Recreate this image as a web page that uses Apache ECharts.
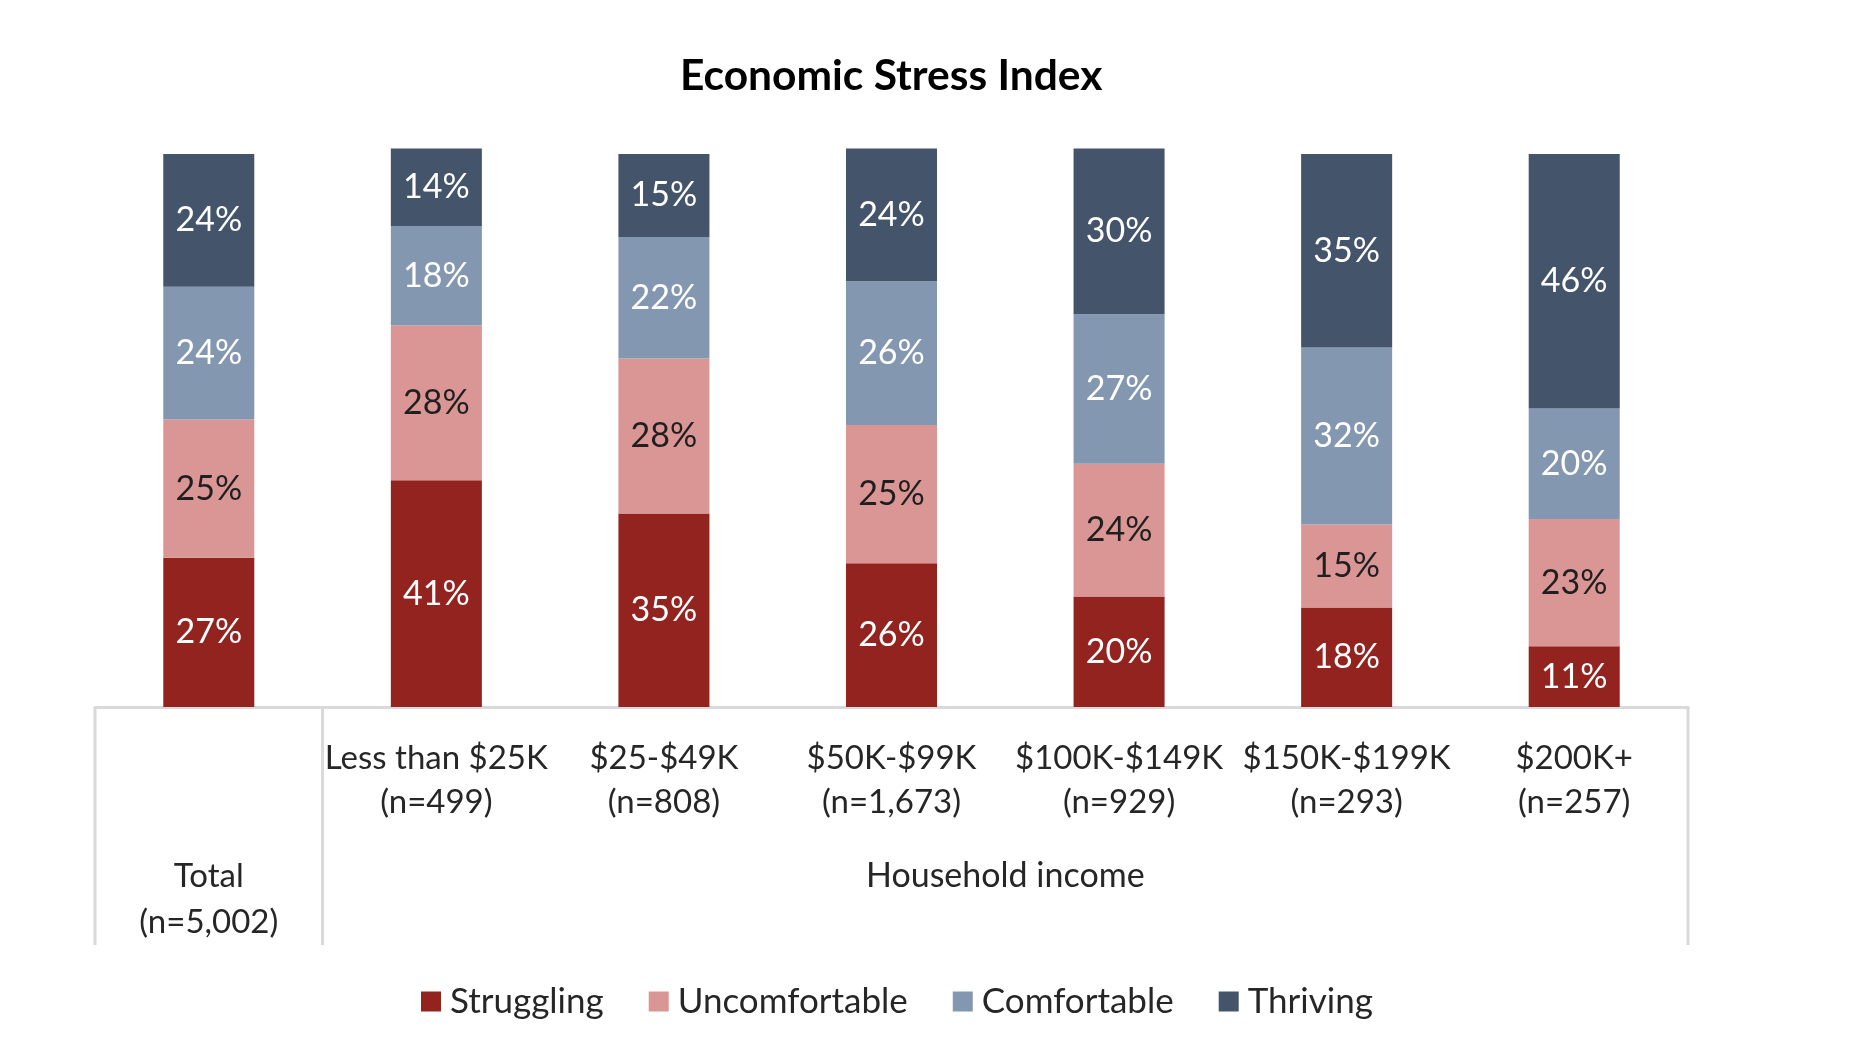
<!DOCTYPE html>
<html>
<head>
<meta charset="utf-8">
<script src="https://cdn.jsdelivr.net/npm/echarts@6/dist/echarts.min.js"></script>
<style>
html,body{margin:0;padding:0;background:#fff;}
#chart{width:1864px;height:1064px;}
</style>
</head>
<body>
<div id="chart"></div>
<script>
const titleText = 'Economic Stress Index';
const categories = ['Total', 'Less than $25K', '$25-$49K', '$50K-$99K', '$100K-$149K', '$150K-$199K', '$200K+'];
const sampleSizes = ['n=5,002', 'n=499', 'n=808', 'n=1,673', 'n=929', 'n=293', 'n=257'];
const groupLabel = 'Household income';
const seriesNames = ['Struggling', 'Uncomfortable', 'Comfortable', 'Thriving'];
const struggling = [27, 41, 35, 26, 20, 18, 11];
const uncomfortable = [25, 28, 28, 25, 24, 15, 23];
const comfortable = [24, 18, 22, 26, 27, 32, 20];
const thriving = [24, 14, 15, 24, 30, 35, 46];

const FONT = 'Lato';
const colors = ['#93231F', '#D99694', '#8497B0', '#44546A'];
const labelColors = ['#ffffff', '#1f1f1f', '#ffffff', '#ffffff'];
const values = [struggling, uncomfortable, comfortable, thriving];

const chart = echarts.init(document.getElementById('chart'));

const series = seriesNames.map((name, k) => ({
  name: name,
  type: 'bar',
  stack: 'all',
  barWidth: '40%',
  clip: false,
  data: values[k],
  itemStyle: { color: colors[k] },
  label: {
    show: true,
    position: 'inside',
    formatter: '{c}%',
    color: labelColors[k],
    fontFamily: FONT,
    fontSize: 34
  },
  emphasis: { disabled: true }
}));

chart.setOption({
  animation: false,
  backgroundColor: '#ffffff',
  title: {
    text: titleText,
    left: 675,
    top: 50,
    textStyle: { fontFamily: FONT, fontWeight: 'bold', fontSize: 42.5, color: '#000000' }
  },
  legend: {
    data: seriesNames,
    left: 416,
    top: 979,
    icon: 'rect',
    itemWidth: 20,
    itemHeight: 20,
    itemGap: 45,
    textStyle: { fontFamily: FONT, fontSize: 35, color: '#262626', padding: [0, 0, 0, 4] }
  },
  grid: { left: 95, right: 176, top: 154, bottom: 357 },
  xAxis: {
    type: 'category',
    data: categories,
    axisLine: { show: true, lineStyle: { color: '#D9D9D9', width: 3 } },
    axisTick: { show: false },
    axisLabel: {
      interval: 0,
      margin: 29,
      color: '#262626',
      fontFamily: FONT,
      fontSize: 33,
      formatter: function (v, i) {
        if (i === 0) {
          return '{sp| }\n{t|' + v + '}\n{t|(' + sampleSizes[i] + ')}';
        }
        return '{l|' + v + '}\n{l|(' + sampleSizes[i] + ')}';
      },
      rich: {
        sp: { lineHeight: 117, fontSize: 10 },
        t: { lineHeight: 46, fontSize: 33, fontFamily: FONT, color: '#262626' },
        l: { lineHeight: 44, fontSize: 33, fontFamily: FONT, color: '#262626' }
      }
    }
  },
  yAxis: { type: 'value', min: 0, max: 100, show: false, splitLine: { show: false } },
  series: series
});

// table frame lines derived from axis scale
const c0 = chart.convertToPixel({ xAxisIndex: 0 }, categories[0]);
const c1 = chart.convertToPixel({ xAxisIndex: 0 }, categories[1]);
const cN = chart.convertToPixel({ xAxisIndex: 0 }, categories[categories.length - 1]);
const band = c1 - c0;
const yTop = chart.convertToPixel({ yAxisIndex: 0 }, 0);
const yBot = yTop + 238;
const xs = [c0 - band / 2, c0 + band / 2, cN + band / 2];
const lineStyle = { stroke: '#D9D9D9', lineWidth: 3 };
const graphics = xs.map(x => ({
  type: 'line',
  shape: { x1: x, y1: yTop, x2: x, y2: yBot },
  style: lineStyle,
  silent: true
}));
graphics.push({
  type: 'text',
  x: (xs[1] + xs[2]) / 2,
  y: 876,
  style: {
    text: groupLabel,
    fill: '#262626',
    font: '34px ' + FONT,
    textAlign: 'center',
    textVerticalAlign: 'middle'
  },
  silent: true
});
chart.setOption({ graphic: graphics });
</script>
</body>
</html>
